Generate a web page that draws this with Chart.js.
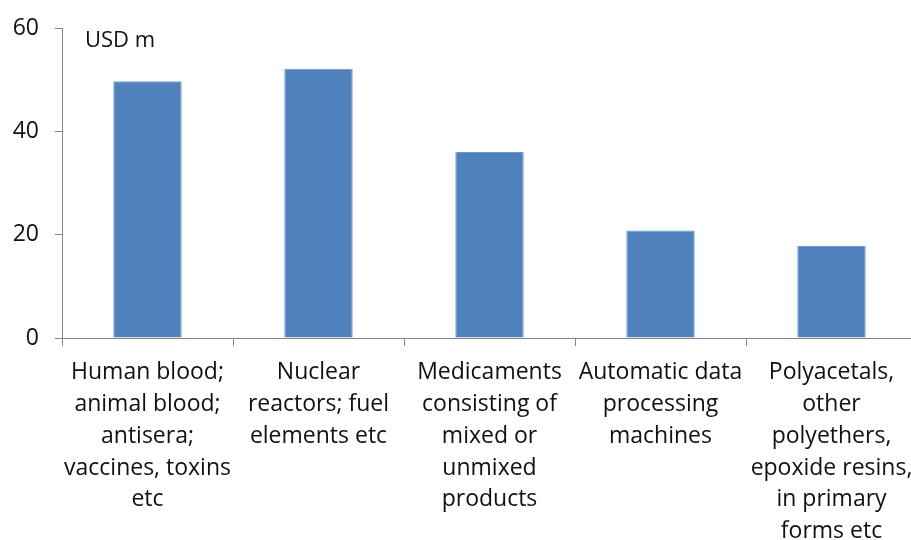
<!DOCTYPE html>
<html>
<head>
<meta charset="utf-8">
<script src="https://cdn.jsdelivr.net/npm/chart.js@4"></script>
<style>
  html, body { margin: 0; padding: 0; background: #fff; overflow: hidden; }
  #wrap { width: 917px; height: 540px; }
</style>
</head>
<body>
<div id="wrap"><canvas id="exportsChart"></canvas></div>
<script>
const categories = [
  ["Human blood;", "animal blood;", "antisera;", "vaccines, toxins", "etc"],
  ["Nuclear", "reactors; fuel", "elements etc"],
  ["Medicaments", "consisting of", "mixed or", "unmixed", "products"],
  ["Automatic data", "processing", "machines"],
  ["Polyacetals,", "other", "polyethers,", "epoxide resins,", "in primary", "forms etc"],
];
const values = [49.7, 52.1, 36.0, 20.8, 17.8];
const yTicks = [0, 20, 40, 60];
const unitLabel = "USD m";

const axisColor = "#868686";
const fontFamily = "'Open Sans', 'Liberation Sans', sans-serif";

// draws the "USD m" note inside the plot, top left
const unitNote = {
  id: "unitNote",
  afterDraw(chart) {
    const { ctx, chartArea } = chart;
    ctx.save();
    ctx.font = "22px " + fontFamily;
    ctx.fillStyle = "#111";
    ctx.textBaseline = "alphabetic";
    ctx.fillText(unitLabel, chartArea.left + 23, chartArea.top + 19);
    ctx.restore();
  },
};

const ctx = document.getElementById("exportsChart").getContext("2d");
new Chart(ctx, {
  type: "bar",
  data: {
    labels: categories,
    datasets: [
      {
        data: values,
        backgroundColor: "#4F81BD",
        borderColor: "#6f97cb",
        borderWidth: 1,
        barPercentage: 0.4,
        categoryPercentage: 1,
      },
    ],
  },
  options: {
    responsive: true,
    maintainAspectRatio: false,
    animation: false,
    layout: { padding: { top: 28, right: 0, bottom: 0, left: 0 } },
    plugins: {
      legend: { display: false },
      tooltip: { enabled: false },
    },
    scales: {
      x: {
        grid: {
          offset: true,
          drawOnChartArea: false,
          drawTicks: true,
          tickLength: 8,
          color: axisColor,
        },
        border: { color: axisColor, width: 1 },
        ticks: {
          color: "#111",
          maxRotation: 0,
          autoSkip: false,
          padding: 11,
          font: { family: fontFamily, size: 23, lineHeight: 1.38 },
        },
        afterFit(scale) {
          scale.height = 202;
          // let the last label run off the edge like the original
          scale.paddingLeft = 0;
          scale.paddingRight = 0;
        },
      },
      y: {
        min: 0,
        max: 60,
        afterBuildTicks(scale) {
          scale.ticks = yTicks.map((v) => ({ value: v }));
        },
        grid: {
          drawOnChartArea: false,
          drawTicks: true,
          tickLength: 7,
          color: axisColor,
        },
        border: { color: axisColor, width: 1 },
        ticks: {
          color: "#111",
          padding: 16,
          font: { family: fontFamily, size: 23 },
        },
        afterFit(scale) {
          scale.width = 62;
          scale.paddingTop = 0;
          scale.paddingBottom = 0;
        },
      },
    },
  },
  plugins: [unitNote],
});
</script>
</body>
</html>
